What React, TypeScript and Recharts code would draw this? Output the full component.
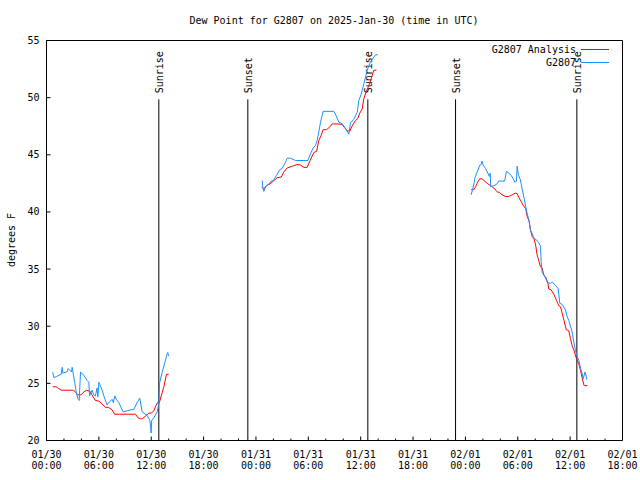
import { Line, LineChart, ReferenceLine, XAxis, YAxis } from "recharts";

// hours since 2025-01-30 00:00 UTC, dew point in degrees F
const analysisJan30 = [
  [0.72, 24.7], [1.1, 24.7], [1.4, 24.55], [1.68, 24.4], [3.0, 24.4],
  [3.25, 24.3], [3.6, 24.0], [3.97, 24.0], [4.2, 24.2], [4.58, 24.4],
  [5.0, 24.3], [5.2, 24.0], [5.6, 23.5], [6.0, 23.45], [6.38, 23.2],
  [6.76, 22.9], [7.1, 22.9], [7.5, 22.7], [7.8, 22.3], [8.35, 22.3],
  [10.2, 22.3], [10.46, 22.0], [10.77, 21.9], [10.96, 21.9], [11.3, 22.1],
  [11.73, 22.4], [12.0, 22.4], [12.3, 22.6], [12.5, 23.0], [12.76, 23.35],
  [12.95, 23.35], [13.14, 23.9], [13.45, 24.7], [13.75, 25.8], [14.0, 25.8],
];
const analysisJan31 = [
  [24.64, 42.2], [24.9, 42.0], [25.2, 42.3], [25.6, 42.45], [26.0, 42.7],
  [26.43, 43.0], [26.9, 43.05], [27.2, 43.5], [27.58, 43.85], [28.15, 44.0],
  [28.72, 44.15], [29.1, 44.1], [29.5, 43.9], [29.87, 43.9], [30.2, 44.5],
  [30.63, 45.2], [30.95, 45.3], [31.2, 46.25], [31.47, 46.7], [31.7, 47.2],
  [32.1, 47.2], [32.55, 47.5], [32.73, 47.7], [33.5, 47.7], [33.9, 47.65],
  [34.1, 47.4], [34.5, 47.1], [34.75, 47.05], [35.0, 47.5], [35.4, 48.0],
  [35.65, 48.15], [35.9, 48.65], [36.17, 49.0], [36.36, 49.9], [36.67, 50.6],
  [36.9, 51.0], [37.2, 51.65], [37.5, 52.4], [37.8, 52.4],
];
const analysisFeb01 = [
  [48.66, 41.95], [48.97, 41.95], [49.16, 42.2], [49.4, 42.6], [49.65, 42.9],
  [49.9, 42.9], [50.2, 42.7], [50.5, 42.5], [50.87, 42.3], [51.25, 42.1],
  [51.64, 41.75], [51.9, 41.7], [52.2, 41.5], [52.6, 41.35], [52.97, 41.35],
  [53.36, 41.5], [53.74, 41.65], [53.93, 41.6], [54.1, 41.3], [54.4, 40.9],
  [54.6, 40.6], [54.9, 40.3], [55.08, 39.6], [55.3, 39.2], [55.46, 38.4],
  [55.65, 37.85], [55.85, 37.65], [56.03, 37.2], [56.2, 36.3], [56.4, 35.75],
  [56.6, 35.2], [56.8, 35.1], [56.98, 34.45], [57.2, 34.3], [57.45, 33.75],
  [57.56, 33.25], [57.8, 33.2], [58.13, 32.8], [58.44, 32.25], [58.7, 31.8],
  [58.9, 31.7], [59.1, 31.1], [59.3, 30.5], [59.55, 29.7], [59.85, 29.6],
  [60.04, 28.9], [60.23, 28.3], [60.43, 27.9], [60.73, 27.15], [61.0, 26.7],
  [61.2, 26.1], [61.4, 25.4], [61.6, 24.8], [61.97, 24.8],
];

const stationJan30 = [
  [0.72, 25.98], [0.84, 25.5], [1.15, 25.6], [1.68, 25.8], [1.8, 26.4],
  [1.87, 25.9], [2.37, 26.0], [2.48, 26.3], [2.86, 26.0], [2.94, 26.4],
  [3.0, 26.1], [3.25, 25.0], [3.44, 24.1], [3.63, 23.6], [3.75, 23.5],
  [3.8, 24.4], [3.9, 26.0], [4.28, 25.7], [4.66, 25.25], [4.85, 25.1],
  [4.93, 23.9], [5.23, 24.4], [5.4, 24.0], [5.6, 23.9], [5.8, 24.6],
  [5.88, 23.8], [6.0, 25.1], [6.1, 24.9], [6.38, 24.4], [6.57, 23.9],
  [6.95, 23.1], [7.1, 23.3], [7.53, 23.6], [7.66, 23.3], [7.83, 23.9],
  [8.0, 23.6], [8.3, 23.3], [8.78, 22.5], [9.25, 22.6], [9.7, 22.7],
  [10.0, 22.7], [10.39, 23.35], [10.69, 23.7], [10.96, 22.5], [11.53, 22.2],
  [11.84, 21.75], [11.92, 21.2], [11.99, 20.65], [12.05, 21.75], [12.3, 22.0],
  [12.68, 22.5], [12.87, 23.2], [12.95, 25.0], [13.26, 26.0], [13.52, 26.7],
  [13.83, 27.6], [13.9, 27.7], [14.0, 27.4],
];
const stationJan31 = [
  [24.71, 42.75], [24.78, 42.2], [24.9, 41.8], [25.1, 42.2], [25.48, 42.45],
  [25.74, 42.7], [26.0, 42.75], [26.36, 43.2], [26.73, 43.7], [27.0, 43.8],
  [27.39, 44.35], [27.58, 44.7], [27.97, 44.7], [28.53, 44.5], [29.95, 44.5],
  [30.25, 45.1], [30.56, 45.6], [30.8, 45.8], [31.0, 46.2], [31.2, 47.0],
  [31.4, 47.85], [31.7, 48.8], [32.92, 48.8], [33.2, 48.4], [33.5, 47.85],
  [33.9, 47.7], [34.26, 47.3], [34.64, 46.8], [34.83, 47.8], [35.2, 48.1],
  [35.6, 48.7], [35.79, 49.75], [36.05, 50.3], [36.36, 51.2], [36.75, 52.4],
  [37.1, 53.1], [37.5, 53.55], [37.7, 53.75], [37.96, 53.75],
];
const stationFeb01 = [
  [48.66, 41.5], [48.8, 41.9], [48.97, 42.45], [49.1, 43.0], [49.35, 43.5],
  [49.65, 44.1], [49.8, 44.15], [49.9, 44.45], [50.0, 44.15], [50.3, 43.8],
  [50.57, 43.4], [50.75, 43.1], [50.84, 43.4], [50.9, 42.2], [51.05, 42.25],
  [51.25, 42.3], [51.55, 42.4], [51.83, 42.7], [52.1, 42.7], [52.5, 42.7],
  [52.7, 43.55], [52.97, 43.4], [53.25, 43.2], [53.47, 42.9], [53.66, 42.6],
  [53.85, 42.7], [53.93, 44.0], [54.0, 43.6], [54.1, 43.2], [54.3, 42.8],
  [54.4, 42.4], [54.5, 42.0], [54.7, 41.3], [54.9, 40.5], [55.08, 39.85],
  [55.3, 39.2], [55.46, 38.4], [55.65, 38.1], [55.85, 37.7], [56.15, 37.55],
  [56.4, 37.3], [56.6, 37.0], [56.68, 35.6], [56.8, 34.7], [57.0, 34.5],
  [57.3, 34.0], [57.45, 33.8], [57.75, 33.75], [57.95, 33.85], [58.3, 33.6],
  [58.63, 33.3], [58.82, 32.0], [59.1, 31.9], [59.47, 31.4], [59.67, 30.8],
  [59.85, 30.5], [60.04, 30.0], [60.23, 29.5], [60.43, 28.6], [60.6, 27.9],
  [60.8, 27.35], [61.0, 27.0], [61.2, 26.3], [61.4, 25.8], [61.5, 25.4],
  [61.7, 26.0], [61.85, 25.6], [61.93, 25.3],
];

const sunEvents = [
  { t: 12.87, label: "Sunrise" },
  { t: 23.07, label: "Sunset" },
  { t: 36.82, label: "Sunrise" },
  { t: 46.87, label: "Sunset" },
  { t: 60.77, label: "Sunrise" },
];

const dayLabels = ["01/30", "01/30", "01/30", "01/30", "01/31", "01/31", "01/31", "01/31", "02/01", "02/01", "02/01", "02/01"];
const timeLabels = ["00:00", "06:00", "12:00", "18:00", "00:00", "06:00", "12:00", "18:00", "00:00", "06:00", "12:00", "18:00"];
const hourTicks = Array.from({ length: 34 }, (_, i) => i * 2);
const dewTicks = [20, 25, 30, 35, 40, 45, 50, 55];

const FONT = "DejaVu Sans Mono, monospace";
const RED = "#ff0000";
const BLUE = "#1e8fff";

// join the day pieces with a null so the line breaks between them
const toSeries = (...parts: number[][][]) =>
  parts.flatMap((part, i) => {
    const rows = part.map(([t, v]) => ({ t, v }));
    return i < parts.length - 1 ? [...rows, { t: part[part.length - 1][0] + 1, v: null }] : rows;
  });

const analysis = toSeries(analysisJan30, analysisJan31, analysisFeb01);
const station = toSeries(stationJan30, stationJan31, stationFeb01);

function HourTick({ x, y, payload, top }: any) {
  const h = payload.value;
  const major = h % 6 === 0;
  const len = major ? 4 : 2;
  const dir = top ? 1 : -1;
  return (
    <g>
      <line x1={x} x2={x} y1={y} y2={y + dir * len} stroke="#000" />
      {!top && major && (
        <text x={x} y={y} textAnchor="middle" fontFamily={FONT} fontSize={10} fill="#000">
          <tspan x={x} dy={17.5}>{dayLabels[h / 6]}</tspan>
          <tspan x={x} dy={11}>{timeLabels[h / 6]}</tspan>
        </text>
      )}
    </g>
  );
}

function DewTick({ x, y, payload, right }: any) {
  const dir = right ? -1 : 1;
  return (
    <g>
      <line x1={x} x2={x + dir * 4} y1={y} y2={y} stroke="#000" />
      {!right && (
        <text x={x - 7} y={y} dy="0.35em" textAnchor="end" fontFamily={FONT} fontSize={10} fill="#000">
          {payload.value}
        </text>
      )}
    </g>
  );
}

function SunLabel({ viewBox, text }: any) {
  if (!viewBox) return null;
  const x = viewBox.x + 1;
  const y = viewBox.y - 6;
  return (
    <text
      x={x}
      y={y}
      dy="0.35em"
      transform={`rotate(-90 ${x} ${y})`}
      textAnchor="start"
      fontFamily={FONT}
      fontSize={10}
      fill="#000"
    >
      {text}
    </text>
  );
}

const axisCommon = {
  tickSize: 0,
  tickMargin: 0,
  tickLine: false,
  interval: 0 as const,
  axisLine: { stroke: "#000" },
};

export default function App() {
  return (
    <div style={{ position: "fixed", left: 0, top: 0, width: 640, height: 480, background: "#fff" }}>
      <LineChart width={640} height={480} margin={{ top: 39.5, right: 16.5, bottom: 38.5, left: 45.5 }}>
        <XAxis
          xAxisId="b"
          type="number"
          dataKey="t"
          domain={[0, 66]}
          ticks={hourTicks}
          height={1}
          {...axisCommon}
          tick={<HourTick />}
        />
        <XAxis
          xAxisId="t"
          orientation="top"
          type="number"
          dataKey="t"
          domain={[0, 66]}
          ticks={hourTicks}
          height={1}
          {...axisCommon}
          tick={<HourTick top />}
        />
        <YAxis
          yAxisId="l"
          type="number"
          domain={[20, 55]}
          ticks={dewTicks}
          width={1}
          {...axisCommon}
          tick={<DewTick />}
        />
        <YAxis
          yAxisId="r"
          orientation="right"
          type="number"
          domain={[20, 55]}
          ticks={dewTicks}
          width={1}
          {...axisCommon}
          tick={<DewTick right />}
        />
        {sunEvents.map((e, i) => (
          <ReferenceLine
            key={i}
            xAxisId="b"
            yAxisId="l"
            segment={[{ x: e.t, y: 20 }, { x: e.t, y: 49.85 }]}
            stroke="#000"
            strokeWidth={1}
            label={<SunLabel text={e.label} />}
          />
        ))}
        <Line
          xAxisId="b"
          yAxisId="l"
          data={analysis}
          dataKey="v"
          type="linear"
          stroke={RED}
          strokeWidth={1}
          dot={false}
          activeDot={false}
          connectNulls={false}
          isAnimationActive={false}
        />
        <Line
          xAxisId="b"
          yAxisId="l"
          data={station}
          dataKey="v"
          type="linear"
          stroke={BLUE}
          strokeWidth={1}
          dot={false}
          activeDot={false}
          connectNulls={false}
          isAnimationActive={false}
        />
      </LineChart>
      <svg
        width={640}
        height={480}
        style={{ position: "absolute", left: 0, top: 0, pointerEvents: "none" }}
        fontFamily={FONT}
        fontSize={10}
      >
        <text x={334} y={20} dy="0.35em" textAnchor="middle">
          Dew Point for G2807 on 2025-Jan-30 (time in UTC)
        </text>
        <text x={11} y={240} dy="0.35em" textAnchor="middle" transform="rotate(-90 11 240)">
          degrees F
        </text>
        <text x={576} y={49.5} dy="0.35em" textAnchor="end">G2807 Analysis</text>
        <line x1={581} x2={609} y1={49.5} y2={49.5} stroke={RED} />
        <text x={576} y={62} dy="0.35em" textAnchor="end">G2807</text>
        <line x1={581} x2={609} y1={62.5} y2={62.5} stroke={BLUE} />
      </svg>
    </div>
  );
}
